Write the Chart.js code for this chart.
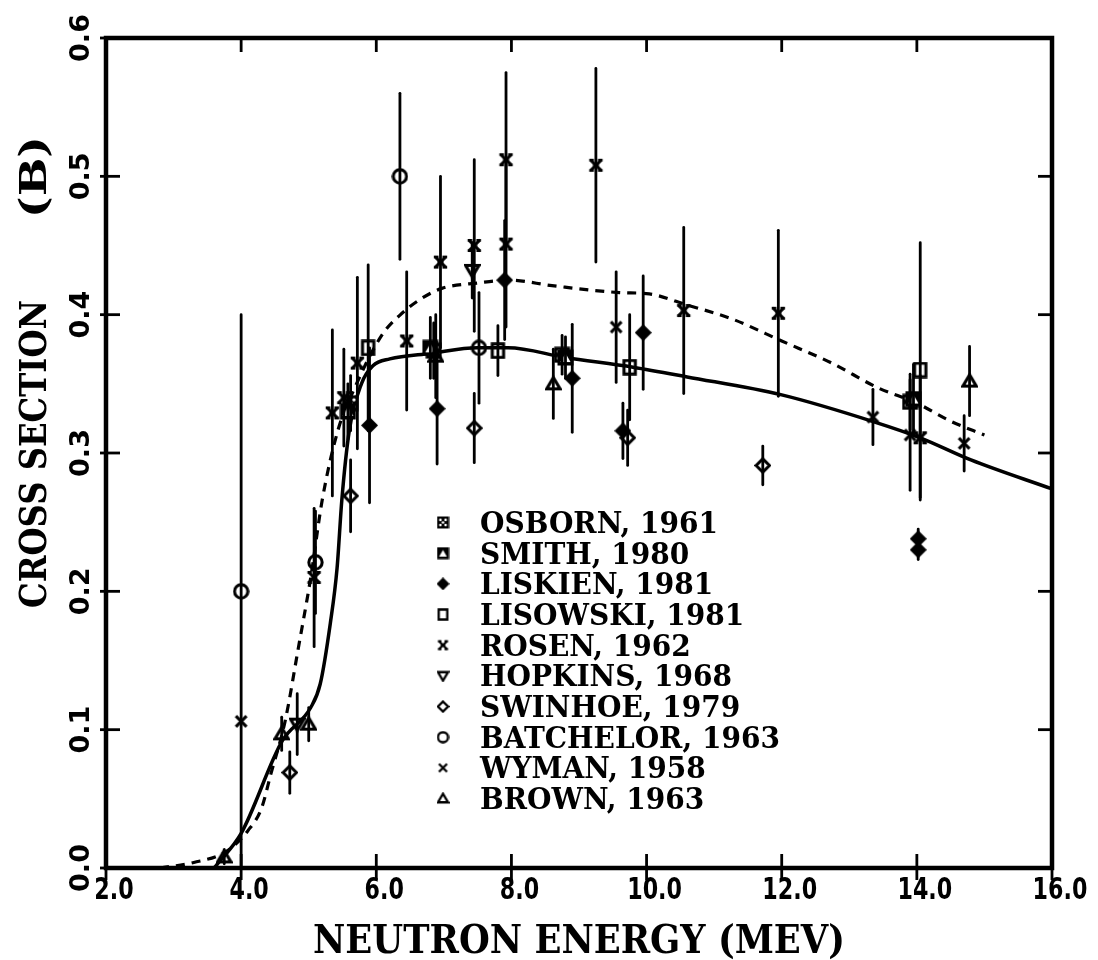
<!DOCTYPE html>
<html><head><meta charset="utf-8">
<script src="https://cdn.jsdelivr.net/npm/chart.js@4.4.0/dist/chart.umd.min.js"></script>
<style>html,body{margin:0;padding:0;background:#fff;overflow:hidden}#wrap{width:1098px;height:960px;position:relative}canvas{display:block}</style>
</head><body><div id="wrap"><canvas id="c" width="1098" height="960"></canvas></div>
<script>
// ---------- axis ticks ----------
const xTicks = [2, 4, 6, 8, 10, 12, 14, 16];
const yTicks = [0.0, 0.1, 0.2, 0.3, 0.4, 0.5, 0.6];

// ---------- evaluated curves ----------
const solidE  = [3.6, 3.65, 4.0, 4.61, 5.03, 5.17, 5.32, 5.42, 5.49, 5.6, 5.78, 5.95, 6.2, 6.8, 7.5, 7.95, 8.8, 9.8, 10.6, 12.0, 13.4, 14.05, 14.8, 16.0];
const solidXS = [0.0, 0.003, 0.025, 0.092, 0.116, 0.133, 0.177, 0.217, 0.266, 0.316, 0.350, 0.363, 0.368, 0.372, 0.376, 0.376, 0.369, 0.362, 0.355, 0.342, 0.322, 0.311, 0.295, 0.274];
const dashE  = [2.8, 3.3, 3.78, 4.1, 4.3, 4.44, 4.65, 4.85, 5.03, 5.2, 5.43, 5.68, 6.08, 6.38, 6.68, 6.97, 7.52, 7.97, 8.6, 9.6, 10.04, 10.6, 11.26, 12.0, 12.74, 13.43, 14.0, 14.5, 15.0];
const dashXS = [0.0, 0.004, 0.012, 0.027, 0.043, 0.068, 0.106, 0.160, 0.210, 0.266, 0.316, 0.347, 0.385, 0.401, 0.412, 0.419, 0.423, 0.425, 0.421, 0.416, 0.415, 0.407, 0.397, 0.381, 0.365, 0.347, 0.336, 0.323, 0.313];

// ---------- measurements ----------
const osbornE   = [5.62, 6.85, 8.75, 13.9];
const osbornXS  = [0.336, 0.374, 0.371, 0.337];
const osbornErr = [0.02, 0.02, 0.014, 0.02];

const smithE   = [5.58, 6.8, 8.8, 13.95];
const smithXS  = [0.330, 0.376, 0.369, 0.339];
const smithErr = [0.02, 0.022, 0.015, 0.025];

const liskienE   = [5.9, 6.9, 7.9, 8.9, 9.65, 9.95, 14.02, 14.02];
const liskienXS  = [0.320, 0.332, 0.425, 0.354, 0.316, 0.387, 0.238, 0.230];
const liskienErr = [0.056, 0.04, 0.043, 0.039, 0.02, 0.041, 0.007, 0.007];

const lisowskiE   = [5.88, 7.8, 9.75, 14.05];
const lisowskiXS  = [0.376, 0.374, 0.362, 0.360];
const lisowskiErr = [0.06, 0.018, 0.038, 0.092];

const rosenE   = [5.08, 5.35, 5.52, 5.72, 6.45, 6.95, 7.45, 7.92, 7.92, 9.25, 10.55, 11.95, 14.05];
const rosenXS  = [0.210, 0.329, 0.340, 0.365, 0.381, 0.438, 0.450, 0.512, 0.451, 0.508, 0.403, 0.401, 0.311];
const rosenErr = [0.05, 0.06, 0.035, 0.062, 0.05, 0.062, 0.062, 0.063, 0.06, 0.07, 0.06, 0.06, 0.045];

const hopkinsE   = [4.83, 7.42];
const hopkinsXS  = [0.104, 0.432];
const hopkinsErr = [0.022, 0.02];

const swinhoeE   = [4.72, 5.62, 7.45, 9.72, 11.72];
const swinhoeXS  = [0.069, 0.269, 0.318, 0.311, 0.291];
const swinhoeErr = [0.015, 0.026, 0.025, 0.02, 0.014];

const batchelorE   = [4.0, 5.1, 6.35, 7.52];
const batchelorXS  = [0.200, 0.221, 0.500, 0.376];
const batchelorErr = [0.2, 0.037, 0.06, 0.04];

const wymanE   = [4.0, 9.55, 13.35, 13.9, 14.7];
const wymanXS  = [0.106, 0.391, 0.326, 0.313, 0.307];
const wymanErr = [0, 0.04, 0.02, 0.04, 0.02];

const brownE   = [3.75, 4.6, 5.0, 6.88, 8.62, 14.78];
const brownXS  = [0.008, 0.097, 0.104, 0.370, 0.350, 0.352];
const brownErr = [0.005, 0.012, 0.012, 0.03, 0.025, 0.025];

const seriesNames = ['OSBORN, 1961','SMITH, 1980','LISKIEN, 1981','LISOWSKI, 1981','ROSEN, 1962','HOPKINS, 1968','SWINHOE, 1979','BATCHELOR, 1963','WYMAN, 1958','BROWN, 1963'];
const seriesSym   = ['osborn','smith','liskien','lisowski','rosen','hopkins','swinhoe','batchelor','wyman','brown'];
const seriesE   = [osbornE, smithE, liskienE, lisowskiE, rosenE, hopkinsE, swinhoeE, batchelorE, wymanE, brownE];
const seriesXS  = [osbornXS, smithXS, liskienXS, lisowskiXS, rosenXS, hopkinsXS, swinhoeXS, batchelorXS, wymanXS, brownXS];
const seriesErr = [osbornErr, smithErr, liskienErr, lisowskiErr, rosenErr, hopkinsErr, swinhoeErr, batchelorErr, wymanErr, brownErr];

// ---------- symbols ----------
function makeSym(type, s) {
  const c = document.createElement('canvas');
  c.width = s; c.height = s;
  const g = c.getContext('2d');
  const m = s / 2, lw = Math.max(2.2, s * 0.18), r = s / 2 - lw / 2 - 0.3;
  g.lineWidth = lw; g.strokeStyle = '#000'; g.fillStyle = '#000'; g.lineJoin = 'miter'; g.lineCap = 'butt';
  g.beginPath();
  switch (type) {
    case 'batchelor': g.arc(m, m, r, 0, Math.PI * 2); g.stroke(); break;
    case 'lisowski': g.rect(m - r * 0.85, m - r, r * 1.7, r * 2); g.stroke(); break;
    case 'swinhoe': g.moveTo(m, m - r); g.lineTo(m + r, m); g.lineTo(m, m + r); g.lineTo(m - r, m); g.closePath(); g.stroke(); break;
    case 'liskien': g.moveTo(m, 0); g.lineTo(s, m); g.lineTo(m, s); g.lineTo(0, m); g.closePath(); g.fill(); break;
    case 'hopkins': g.moveTo(m - r, m - r * 0.75); g.lineTo(m + r, m - r * 0.75); g.lineTo(m, m + r * 0.95); g.closePath(); g.stroke(); break;
    case 'brown': g.moveTo(m - r, m + r * 0.75); g.lineTo(m + r, m + r * 0.75); g.lineTo(m, m - r * 0.95); g.closePath(); g.stroke(); break;
    case 'wyman': g.moveTo(m - r * 0.8, m - r * 0.8); g.lineTo(m + r * 0.8, m + r * 0.8); g.moveTo(m + r * 0.8, m - r * 0.8); g.lineTo(m - r * 0.8, m + r * 0.8); g.stroke(); break;
    case 'rosen':
      g.moveTo(m - r * 0.85, m - r * 0.85); g.lineTo(m + r * 0.85, m + r * 0.85); g.moveTo(m + r * 0.85, m - r * 0.85); g.lineTo(m - r * 0.85, m + r * 0.85);
      g.stroke();
      g.lineWidth = lw * 0.8; g.beginPath();
      g.moveTo(m - r, m - r * 0.8); g.lineTo(m - r * 0.3, m - r * 0.8); g.moveTo(m + r * 0.3, m - r * 0.8); g.lineTo(m + r, m - r * 0.8);
      g.moveTo(m - r, m + r * 0.8); g.lineTo(m - r * 0.3, m + r * 0.8); g.moveTo(m + r * 0.3, m + r * 0.8); g.lineTo(m + r, m + r * 0.8);
      g.moveTo(m - r * 0.45, m); g.lineTo(m + r * 0.45, m);
      g.stroke(); break;
    case 'osborn':
      g.rect(0.5, 0.5, s - 1, s - 1); g.fill();
      g.fillStyle = '#fff';
      [[0.3,0.3],[0.7,0.3],[0.5,0.5],[0.3,0.7],[0.7,0.7]].forEach(p => { g.beginPath(); g.arc(p[0]*s, p[1]*s, s*0.1, 0, Math.PI*2); g.fill(); });
      break;
    case 'smith':
      g.rect(0.5, 0.5, s - 1, s - 1); g.fill();
      g.fillStyle = '#fff'; g.beginPath(); g.moveTo(s*0.5, s*0.25); g.lineTo(s*0.8, s*0.76); g.lineTo(s*0.2, s*0.76); g.closePath(); g.fill();
      break;
  }
  return c;
}
const plotSyms = seriesSym.map(t => makeSym(t, 17));
const legSyms  = seriesSym.map(t => makeSym(t, 13));

// ---------- datasets ----------
const datasets = [
  { label: 'solid', data: solidE.map((e, i) => ({ x: e, y: solidXS[i] })), showLine: true, borderColor: '#000', borderWidth: 3.5, pointRadius: 0, cubicInterpolationMode: 'monotone', order: 20 },
  { label: 'dash', data: dashE.map((e, i) => ({ x: e, y: dashXS[i] })), showLine: true, borderColor: '#000', borderWidth: 3.2, borderDash: [9, 7], pointRadius: 0, cubicInterpolationMode: 'monotone', order: 19 }
];
seriesNames.forEach((n, k) => {
  datasets.push({ label: n, data: seriesE[k].map((e, i) => ({ x: e, y: seriesXS[k][i], err: seriesErr[k][i] })),
    pointStyle: plotSyms[k], pointRadius: 8, showLine: false, order: 10 - k });
});

function fitText(ctx, txt, x, y, w, align) {
  const m = ctx.measureText(txt).width;
  const sx = w / m;
  ctx.save(); ctx.translate(x, y); ctx.scale(sx, 1);
  ctx.textAlign = align || 'left';
  ctx.fillText(txt, 0, 0); ctx.restore();
}

const decor = {
  id: 'decor',
  afterDatasetsDraw(chart) {
    const ctx = chart.ctx, xs = chart.scales.x, ys = chart.scales.y;
    ctx.save(); ctx.strokeStyle = '#000'; ctx.lineWidth = 2.8; ctx.lineCap = 'round';
    chart.data.datasets.forEach(ds => {
      ds.data.forEach(p => {
        if (!p.err) return;
        const px = xs.getPixelForValue(p.x);
        ctx.beginPath();
        ctx.moveTo(px, ys.getPixelForValue(Math.min(0.6, p.y + p.err)));
        ctx.lineTo(px, ys.getPixelForValue(Math.max(0, p.y - p.err)));
        ctx.stroke();
      });
    });
    ctx.restore();
  },
  afterDraw(chart) {
    const ctx = chart.ctx, xs = chart.scales.x, ys = chart.scales.y, a = chart.chartArea;
    ctx.save();
    ctx.strokeStyle = '#000'; ctx.fillStyle = '#000';
    ctx.lineWidth = 4.5;
    ctx.strokeRect(a.left, a.top, a.right - a.left, a.bottom - a.top);
    ctx.lineWidth = 2.8;
    xTicks.forEach(v => {
      const px = xs.getPixelForValue(v);
      ctx.beginPath(); ctx.moveTo(px, a.bottom - 14); ctx.lineTo(px, a.bottom + 12); ctx.stroke();
      ctx.beginPath(); ctx.moveTo(px, a.top); ctx.lineTo(px, a.top + 14); ctx.stroke();
    });
    yTicks.forEach(v => {
      const py = ys.getPixelForValue(v);
      ctx.beginPath(); ctx.moveTo(a.left - 6, py); ctx.lineTo(a.left + 14, py); ctx.stroke();
      ctx.beginPath(); ctx.moveTo(a.right - 14, py); ctx.lineTo(a.right, py); ctx.stroke();
    });
    // x tick labels
    ctx.font = 'bold 30px "DejaVu Sans"';
    ctx.textBaseline = 'alphabetic';
    xTicks.forEach(v => {
      const px = xs.getPixelForValue(v);
      const t = v.toFixed(1);
      const w = ctx.measureText(t).width * 0.74;
      fitText(ctx, t, px + 8 - w / 2, 899, w, 'left');
    });
    // y tick labels (rotated)
    ctx.font = 'bold 27px "DejaVu Sans"';
    yTicks.forEach(v => {
      const py = ys.getPixelForValue(v);
      ctx.save(); ctx.translate(89, py); ctx.rotate(-Math.PI / 2);
      ctx.textAlign = 'center'; ctx.textBaseline = 'alphabetic';
      ctx.fillText(v.toFixed(1), 0, 0);
      ctx.restore();
    });
    // axis titles
    ctx.font = 'bold 40px "DejaVu Serif"';
    fitText(ctx, 'NEUTRON ENERGY (MEV)', 313, 953, 532, 'left');
    ctx.save(); ctx.translate(46, 0); ctx.rotate(-Math.PI / 2);
    ctx.font = 'bold 37px "DejaVu Serif"';
    fitText(ctx, 'CROSS SECTION', -608, 0, 308, 'left');
    fitText(ctx, '(B)', -218, 0, 82, 'left');
    ctx.restore();
    // legend
    ctx.font = 'bold 29px "DejaVu Serif"';
    const sx = 300 / ctx.measureText('BATCHELOR, 1963').width;
    seriesNames.forEach((n, k) => {
      const cy = 522.5 + k * 30.67;
      const img = legSyms[k];
      ctx.drawImage(img, 443 - img.width / 2, cy - img.height / 2);
      ctx.save(); ctx.translate(480, cy + 10.5); ctx.scale(sx, 1);
      ctx.textAlign = 'left'; ctx.fillText(n, 0, 0); ctx.restore();
    });
    ctx.restore();
  }
};

new Chart(document.getElementById('c'), {
  type: 'scatter',
  data: { datasets },
  options: {
    responsive: false, animation: false, devicePixelRatio: 1, events: [],
    layout: { padding: { left: 106, right: 46, top: 38, bottom: 92 } },
    plugins: { legend: { display: false }, tooltip: { enabled: false } },
    scales: {
      x: { type: 'linear', min: 2, max: 16, display: false },
      y: { type: 'linear', min: 0, max: 0.6, display: false }
    }
  },
  plugins: [decor]
});
</script></body></html>
